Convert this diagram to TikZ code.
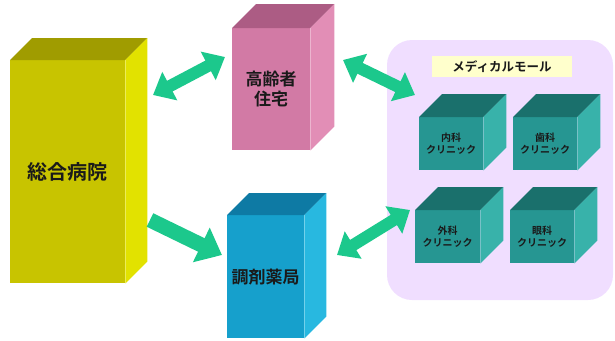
\documentclass[tikz,border=0pt]{standalone}
\usepackage{fontspec}
\setmainfont{Noto Sans CJK JP}[BoldFont={Noto Sans CJK JP Bold}]
\usetikzlibrary{arrows.meta,calc}
\definecolor{hospF}{RGB}{200,196,0}
\definecolor{hospT}{RGB}{160,156,0}
\definecolor{hospS}{RGB}{226,226,0}
\definecolor{homeF}{RGB}{210,122,165}
\definecolor{homeT}{RGB}{172,92,132}
\definecolor{homeS}{RGB}{226,142,182}
\definecolor{pharF}{RGB}{22,160,204}
\definecolor{pharT}{RGB}{14,122,164}
\definecolor{pharS}{RGB}{40,184,224}
\definecolor{clinF}{RGB}{38,150,146}
\definecolor{clinT}{RGB}{26,112,108}
\definecolor{clinS}{RGB}{56,178,170}
\definecolor{mallbg}{RGB}{240,222,255}
\definecolor{labelbg}{RGB}{255,255,204}
\definecolor{arrowgreen}{RGB}{28,200,140}
\definecolor{txt}{RGB}{26,26,26}
\tikzset{
  cubeface/.style={inner sep=0pt, align=center, text=txt},
  bigarrow/.style={draw=arrowgreen, line width=12pt,
    {Triangle[width=31pt,length=19pt]}-{Triangle[width=31pt,length=19pt]}},
  onearrow/.style={draw=arrowgreen, line width=15pt, line cap=butt,
    -{Triangle[width=37pt,length=23pt]}},
  mallbox/.style={fill=mallbg, rounded corners=25pt, inner sep=0pt},
  mallabel/.style={fill=labelbg, inner sep=0pt, text=txt, font=\bfseries\fontsize{12.5}{14}\selectfont},
  bigtxt/.style={font=\bfseries\fontsize{20}{24}\selectfont},
  midtxt/.style={font=\bfseries\fontsize{17}{20}\selectfont},
  smalltxt/.style={font=\bfseries\fontsize{10}{12.5}\selectfont}
}
% name, (pos), width, height, depth, colour prefix, text style, text
\newcommand{\mycube}[8]{%
  \node[cubeface, fill=#6F, minimum width=#3, minimum height=#4, anchor=north west, #7] (#1) at #2 {#8};
  \fill[#6T] (#1.north west) -- ++(#5,-#5) -- ([shift={(#5,-#5)}]#1.north east) -- (#1.north east) -- cycle;
  \fill[#6S] (#1.north east) -- ++(#5,-#5) -- ([shift={(#5,-#5)}]#1.south east) -- (#1.south east) -- cycle;
}
\begin{document}
\begin{tikzpicture}[x=1pt,y=-1pt]
\useasboundingbox (0,0) rectangle (615,340);
% medical mall
\node[mallbox, minimum width=226pt, minimum height=260pt] (mall) at (500,170) {};
\node[mallabel, minimum width=140pt, minimum height=21pt] (malllabel) at (502,66.5) {メディカルモール};
\mycube{naika}{(419,117)}{64pt}{53pt}{23}{clin}{smalltxt}{内科\\クリニック}
\mycube{shika}{(513,117)}{64pt}{53pt}{23}{clin}{smalltxt}{歯科\\クリニック}
\mycube{geka}{(415,210)}{65pt}{53pt}{23}{clin}{smalltxt}{外科\\クリニック}
\mycube{ganka}{(510,210)}{64pt}{53pt}{23}{clin}{smalltxt}{眼科\\クリニック}
% main buildings
\mycube{hosp}{(10,60)}{115pt}{223pt}{22}{hosp}{bigtxt}{総合病院}
\mycube{home}{(232,28)}{78pt}{122pt}{24}{home}{midtxt}{高齢者\\住宅}
\mycube{phar}{(227,215)}{77pt}{123pt}{22}{phar}{midtxt}{\raisebox{-12pt}{調剤薬局}}
% arrows
\coordinate (a1) at (153,95);
\coordinate (a2) at (225,57);
\coordinate (b1) at (343,60);
\coordinate (b2) at (415,95);
\coordinate (c1) at (150,220);
\coordinate (c2) at (222,255);
\coordinate (d1) at (337,255);
\coordinate (d2) at (410,210);
\draw[bigarrow] (a1) -- (a2);
\draw[bigarrow] (b1) -- (b2);
\draw[onearrow] (c1) -- (c2);
\draw[bigarrow] (d1) -- (d2);
\end{tikzpicture}
\end{document}
